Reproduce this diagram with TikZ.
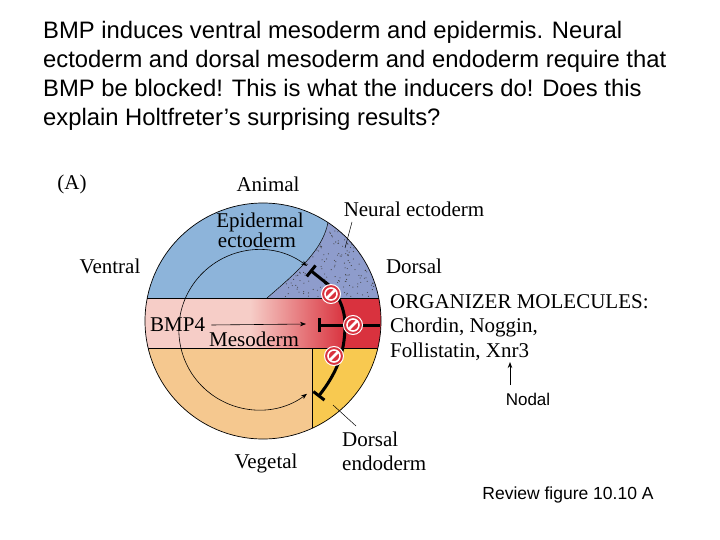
\documentclass[tikz,border=0pt]{standalone}
\usepackage{fontspec}
\usetikzlibrary{arrows.meta}
\newfontfamily\sans{Liberation Sans}
\newfontfamily\ser{Liberation Serif}
\definecolor{epi}{HTML}{8DB4DA}
\definecolor{neur}{HTML}{8E9CCC}
\definecolor{pinkm}{HTML}{F6CDC7}
\definecolor{redm}{HTML}{D9323E}
\definecolor{veg}{HTML}{F5C88F}
\definecolor{dend}{HTML}{F8C950}
\begin{document}
\begin{tikzpicture}[x=1pt,y=-1pt,
  lab/.style={font=\ser\fontsize{21}{23}\selectfont,inner sep=0pt},
  stop/.style={circle,fill=redm,draw=white,line width=1pt,minimum size=19pt,inner sep=0pt,
    path picture={\draw[white,line width=1.6pt] (path picture bounding box.center) circle[radius=6];
      \draw[white,line width=2.5pt] ([shift={(-4,4)}]path picture bounding box.center) -- ([shift={(4,-4)}]path picture bounding box.center);}},
  thin/.style={-{Stealth[length=6pt]},line width=0.6pt},
  thick/.style={line width=3pt,-{Bar[width=14pt,line width=3pt]}}]
\useasboundingbox (0,0) rectangle (720,540);
\fill[white] (0,0) rectangle (720,540);
\node[anchor=north west,align=left,font=\sans\fontsize{23.8}{29}\selectfont,inner sep=0pt] (title) at (43,21)
 {BMP induces ventral mesoderm and epidermis. Neural\\ectoderm and dorsal mesoderm and endoderm require that\\BMP be blocked! This is what the inducers do! Does this\\explain Holtfreter’s surprising results?};
\coordinate (c) at (263,321);
\begin{scope}
\clip (c) circle[radius=118];
\fill[neur] (267,298) .. controls (305,265) and (335,240) .. (328,200) -- (390,200) -- (390,298) -- cycle;
\foreach \i in {1,...,320}{\pgfmathsetmacro\px{rnd}\pgfmathsetmacro\py{rnd}
  \pgfmathsetmacro\X{285+100*\px}\pgfmathsetmacro\Y{205+92*\py}
  \fill[black!75] (\X,\Y) circle[radius=0.55];}
\fill[epi] (140,298) -- (267,298) .. controls (305,265) and (335,240) .. (328,200) -- (140,190) -- cycle;
\draw[line width=0.5pt] (267,298) .. controls (305,265) and (335,240) .. (328,200);
\fill[pinkm] (140,298) rectangle (250,348);
\shade[shading=axis,left color=pinkm,right color=redm] (250,298) rectangle (345,348);
\fill[redm] (345,298) rectangle (390,348);
\fill[veg] (140,348) rectangle (390,445);
\fill[dend] (312,348) rectangle (390,445);
\draw[line width=0.6pt] (312,348) -- (312,445);
\draw[line width=0.6pt] (140,298) -- (390,298) (140,348) -- (390,348);
\end{scope}
\draw[line width=0.7pt] (c) circle[radius=118];
\draw[{Stealth[length=6pt]}-{Stealth[length=6pt]},line width=0.6pt] (307,266) arc[start angle=-53,end angle=-307,radius=80];
\coordinate (bmpE) at (306,324);
\node[lab,anchor=west] (bmp) at (150,325) {BMP4};
\draw[thin] (bmp.east)++(6,0) -- (bmpE);
\node[lab,anchor=west] (meso) at (209,339) {Mesoderm};
\node[lab] (epil) at (260,222) {Epidermal};
\node[lab] (epil2) at (257,240) {ectoderm};
\coordinate (r) at (380,325);
\coordinate (tA) at (310,270);
\coordinate (tB) at (318,325);
\coordinate (tC) at (318,397);
\coordinate (m) at (345,325);
\draw[thick] (r) -- (tB);
\draw[line width=3pt] (m) .. controls (345,305) and (335,290) .. (325,282);
\draw[thick] (330,286) -- (tA);
\draw[thick] (m) .. controls (345,355) and (335,375) .. (tC);
\node[stop] (s1) at (331,294) {};
\node[stop] (s2) at (353,325) {};
\node[stop] (s3) at (334,356) {};
\node[lab] (A) at (72,184) {(A)};
\node[lab] (an) at (268,184) {Animal};
\node[lab] (ne) at (414,209) {Neural ectoderm};
\draw[line width=0.5pt] (352,222) -- (345,248);
\node[lab] (ve) at (110,266) {Ventral};
\node[lab] (do) at (414,266) {Dorsal};
\node[lab,anchor=west] (org) at (390,302) {ORGANIZER MOLECULES:};
\node[lab,anchor=west] (ch) at (390,327) {Chordin, Noggin,};
\node[lab,anchor=west] (fo) at (390,352) {Follistatin, Xnr3};
\node[font=\sans\fontsize{17}{19}\selectfont,inner sep=0pt] (nod) at (528,399) {Nodal};
\coordinate (nodT) at (510,362);
\draw[-{Stealth[length=6pt]},line width=0.8pt] (510,385) -- (nodT);
\node[lab,anchor=west] (de) at (342,439) {Dorsal};
\node[lab,anchor=west] (de2) at (342,463) {endoderm};
\draw[line width=0.5pt] (356,426) -- (333,405);
\node[lab] (vg) at (266,463) {Vegetal};
\node[font=\sans\fontsize{17.5}{19}\selectfont,inner sep=0pt] (rev) at (568,495) {Review figure 10.10 A};
\end{tikzpicture}
\end{document}
